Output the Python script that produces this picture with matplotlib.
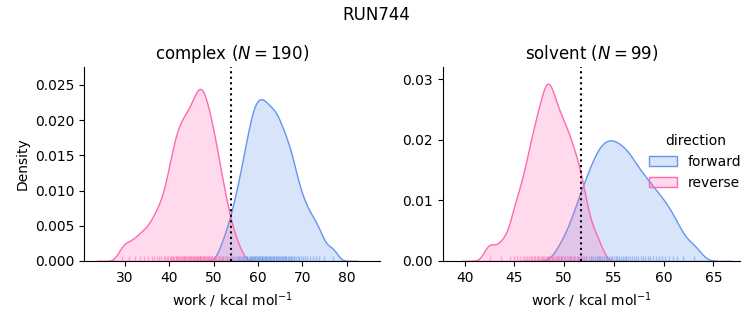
""" Forward / reverse work distributions for RUN744 """

import numpy as np
import seaborn as sns
from matplotlib import pyplot as plt
from matplotlib.colors import to_rgba

complex_forward = [51.9, 53.1, 53.8, 54.4, 54.9, 55.3, 55.7, 56.0, 56.4, 56.6,
                   56.9, 57.2, 57.4, 57.6, 57.9, 58.1, 58.3, 58.5, 58.7, 58.9,
                   59.0, 59.2, 59.4, 59.6, 59.8, 59.9, 60.1, 60.3, 60.5, 60.6,
                   60.8, 61.0, 61.2, 61.3, 61.5, 61.7, 61.9, 62.1, 62.2, 62.4,
                   62.6, 62.8, 63.0, 63.2, 63.4, 63.6, 63.7, 64.0, 64.1, 64.3,
                   64.5, 64.7, 64.9, 65.1, 65.3, 65.6, 65.8, 66.0, 66.2, 66.4,
                   66.7, 66.9, 67.2, 67.4, 67.7, 68.0, 68.2, 68.5, 68.9, 69.3,
                   69.7, 70.1, 70.6, 71.1, 71.7, 72.3, 73.0, 73.7, 74.8, 76.8]
complex_reverse = [29.4, 30.9, 32.3, 33.4, 34.3, 35.2, 36.0, 36.6, 37.2, 37.7,
                   38.2, 38.7, 39.1, 39.5, 39.8, 40.1, 40.4, 40.6, 40.9, 41.1,
                   41.4, 41.6, 41.8, 42.0, 42.2, 42.4, 42.6, 42.8, 43.0, 43.2,
                   43.4, 43.6, 43.8, 44.0, 44.2, 44.4, 44.6, 44.7, 44.9, 45.1,
                   45.3, 45.5, 45.6, 45.8, 46.0, 46.2, 46.3, 46.5, 46.7, 46.9,
                   47.0, 47.2, 47.4, 47.6, 47.7, 47.9, 48.1, 48.2, 48.4, 48.6,
                   48.8, 49.0, 49.2, 49.3, 49.5, 49.7, 50.0, 50.2, 50.4, 50.6,
                   50.9, 51.2, 51.4, 51.8, 52.1, 52.5, 53.0, 53.5, 54.2, 55.5,
                   47.0]
solvent_forward = [49.7, 50.6, 51.0, 51.4, 51.7, 52.0, 52.2, 52.5, 52.7, 52.9,
                   53.1, 53.3, 53.5, 53.6, 53.8, 54.0, 54.2, 54.3, 54.5, 54.7,
                   54.8, 55.0, 55.2, 55.3, 55.5, 55.7, 55.9, 56.1, 56.2, 56.4,
                   56.6, 56.8, 57.0, 57.2, 57.4, 57.7, 57.9, 58.1, 58.4, 58.6,
                   58.9, 59.2, 59.5, 59.8, 60.1, 60.5, 60.9, 61.3, 62.0, 63.1]
solvent_reverse = [42.5, 43.7, 44.6, 45.0, 45.3, 45.6, 45.9, 46.1, 46.3, 46.5,
                   46.7, 46.8, 47.0, 47.1, 47.3, 47.4, 47.5, 47.7, 47.8, 47.9,
                   48.0, 48.2, 48.3, 48.4, 48.5, 48.6, 48.8, 48.9, 49.0, 49.2,
                   49.3, 49.4, 49.5, 49.7, 49.8, 50.0, 50.1, 50.3, 50.4, 50.6,
                   50.7, 50.9, 51.1, 51.3, 51.5, 51.7, 51.9, 52.2, 52.7, 53.4,
                   48.4]

n_complex = 190
n_solvent = 99
dg_complex = 53.9   # dotted line
dg_solvent = 51.7

colors = {'forward': 'cornflowerblue', 'reverse': 'hotpink'}
n_total = 2 * (n_complex + n_solvent)


def kde(values, n, weight):
    v = np.asarray(values)
    h_ref = v.std() * n ** (-1 / 5)
    bw = 0.6 * h_ref
    grid = np.linspace(v.min() - 3 * h_ref, v.max() + 3 * h_ref, 400)
    z = (grid[:, None] - v[None, :]) / bw
    dens = np.exp(-0.5 * z ** 2).sum(axis=1) / (len(v) * bw * np.sqrt(2 * np.pi))
    return grid, dens * weight


fig = plt.figure(figsize=(7.53, 3.25), dpi=100)
ax1 = fig.add_axes([0.1116, 0.197, 0.393, 0.597])
ax2 = fig.add_axes([0.588, 0.197, 0.395, 0.597])

panels = [
    (ax1, 'complex', n_complex, complex_forward, complex_reverse, dg_complex,
     (20.75, 87.5), (0, 0.02756)),
    (ax2, 'solvent', n_solvent, solvent_forward, solvent_reverse, dg_solvent,
     (37.8, 67.7), (0, 0.0320)),
]

for ax, phase, n, fwd, rev, dg, xlim, ylim in panels:
    for label, vals in [('forward', fwd), ('reverse', rev)]:
        c = colors[label]
        x, y = kde(vals, n, n / n_total)
        ax.fill_between(x, y, facecolor=to_rgba(c, 0.25), edgecolor=c,
                        linewidth=1, label=label)
    for label, vals in [('forward', fwd), ('reverse', rev)]:
        sns.rugplot(x=vals, ax=ax, color=colors[label], height=0.025,
                    alpha=0.5, linewidth=1)
    ax.axvline(dg, color='black', linestyle=':', linewidth=1.5)
    ax.set_xlim(*xlim)
    ax.set_ylim(*ylim)
    ax.set_title(f'{phase} ($N = {n}$)', fontsize=12)
    ax.set_xlabel('work / kcal mol$^{-1}$')
    ax.spines['top'].set_visible(False)
    ax.spines['right'].set_visible(False)

ax1.set_ylabel('Density')
ax2.set_yticks([0, 0.01, 0.02, 0.03])
ax2.legend(title='direction', frameon=False, loc='center right',
           bbox_to_anchor=(1.047, 0.51))

fig.suptitle('RUN744', fontsize=12)
fig.savefig('out.png', dpi=100)
